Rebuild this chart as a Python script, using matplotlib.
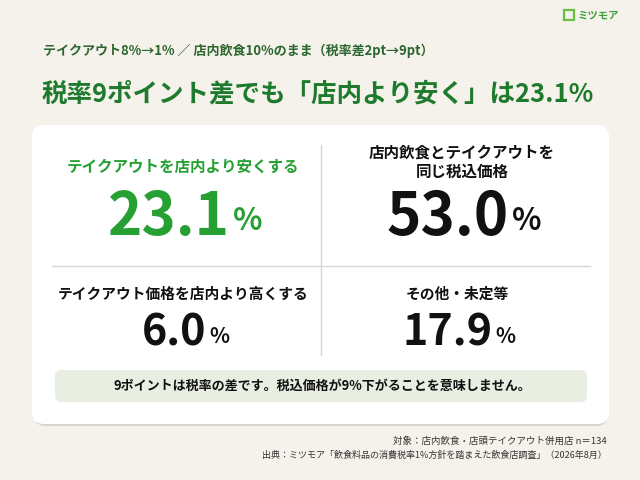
import matplotlib
matplotlib.use("Agg")
import matplotlib.pyplot as plt
from matplotlib.patches import FancyBboxPatch, Rectangle

plt.rcParams['font.family'] = ['Noto Sans CJK JP', 'DejaVu Sans']

# data
labels = ["テイクアウトを店内より安くする",
          "店内飲食とテイクアウトを\n同じ税込価格",
          "テイクアウト価格を店内より高くする",
          "その他・未定等"]
values = [23.1, 53.0, 6.0, 17.9]
highlight = [True, False, False, False]

subtitle = "テイクアウト8%→1% ／ 店内飲食10%のまま（税率差2pt→9pt）"
title = "税率9ポイント差でも「店内より安く」は23.1%"
note = "9ポイントは税率の差です。税込価格が9%下がることを意味しません。"
foot1 = "対象：店内飲食・店頭テイクアウト併用店 n＝134"
foot2 = "出典：ミツモア「飲食料品の消費税率1%方針を踏まえた飲食店調査」（2026年8月）"

bg = "#F4F2EB"
green_dark = "#1E7A2C"
green = "#27A033"
ink = "#111111"

fig = plt.figure(figsize=(6.4, 4.8), dpi=100)
fig.patch.set_facecolor(bg)
ax = fig.add_axes([0, 0, 1, 1])
ax.set_xlim(0, 640)
ax.set_ylim(480, 0)
ax.axis("off")

# logo
ax.add_patch(Rectangle((564, 10), 10, 10, fill=False, ec="#6BBE45", lw=1.6))
ax.text(578, 15.5, "ミツモア", color="#3E9E3A", fontsize=7.5, fontweight="bold",
        va="center", ha="left")

# headings
ax.text(43, 51, subtitle, color="#2B662E", fontsize=9.4, fontweight="bold", va="center")
ax.text(42, 94, title, color=green_dark, fontsize=18.4, fontweight="bold", va="center")

# card with shadow
ax.add_patch(FancyBboxPatch((34, 128), 574, 298, boxstyle="round,pad=0,rounding_size=12",
                            fc="#D6D5CF", ec="none"))
ax.add_patch(FancyBboxPatch((32, 125), 577, 299, boxstyle="round,pad=0,rounding_size=12",
                            fc="white", ec="none"))

# dividers
ax.plot([321, 321], [145, 355], color="#D6D6D6", lw=1)
ax.plot([52, 590], [266, 266], color="#D6D6D6", lw=1)

centers = [(183, 0), (462, 0), (183, 1), (457, 1)]
for (cx, row), lab, v, hi in zip(centers, labels, values, highlight):
    col = green if hi else ink
    if row == 0:
        ly, ny, nsize, psize, lsize, shift = 167, 218, 42, 22, 11.2, 14
        if "\n" in lab:
            ly = 162
    else:
        ly, ny, nsize, psize, lsize, shift = 294, 333, 31, 15, 10.6, 9
    ax.text(cx, ly, lab, color=col, fontsize=lsize, fontweight="bold",
            ha="center", va="center", linespacing=1.25)
    t = ax.text(cx - shift, ny, f"{v:.1f}", color=col, fontsize=nsize,
                fontweight="bold", ha="center", va="center")
    ax.annotate("%", xy=(1, 0.18), xycoords=t, xytext=(2, 0), textcoords="offset points",
                color=col, fontsize=psize, fontweight="bold", ha="left", va="bottom")

# note box
ax.add_patch(FancyBboxPatch((55, 370), 532, 32, boxstyle="round,pad=0,rounding_size=6",
                            fc="#E9EEE3", ec="none"))
ax.text(322, 386, note, color=ink, fontsize=9.4, fontweight="bold", ha="center", va="center")

# footnotes
ax.text(607, 441, foot1, color="#333333", fontsize=6.8, ha="right", va="center")
ax.text(607, 455, foot2, color="#333333", fontsize=6.5, ha="right", va="center")

fig.savefig("out.png", dpi=100, facecolor=bg)
